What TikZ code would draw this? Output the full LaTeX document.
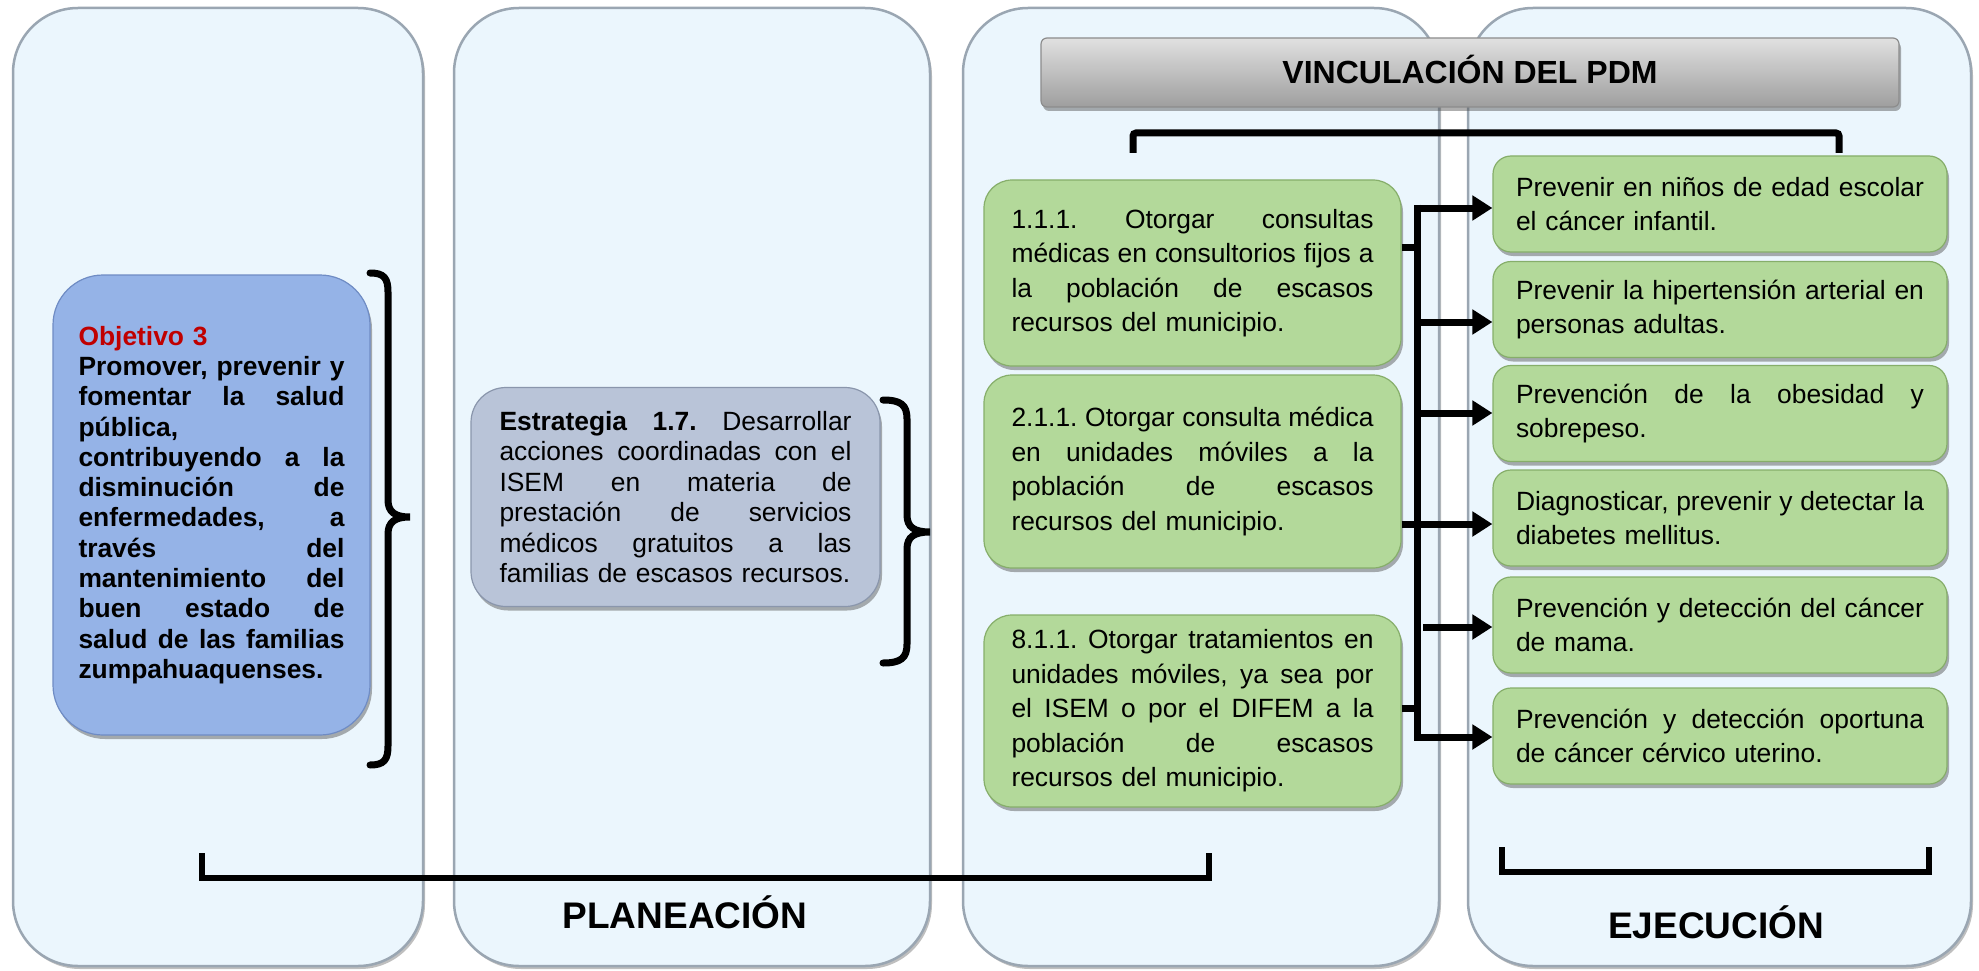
\documentclass[tikz,border=0pt]{standalone}
\usepackage{fontspec}
\setmainfont{Liberation Sans}
\usetikzlibrary{arrows.meta,shadows}
\definecolor{panelfill}{HTML}{EBF6FD}
\definecolor{panelline}{HTML}{9AA6B2}
\definecolor{objfill}{HTML}{95B3E7}
\definecolor{objline}{HTML}{6F8CC4}
\definecolor{estfill}{HTML}{B9C4D8}
\definecolor{estline}{HTML}{8A96AC}
\definecolor{grfill}{HTML}{B3D99A}
\definecolor{grline}{HTML}{86AE6A}
\definecolor{objred}{HTML}{C00000}
\def\jwd{100pt}
\newcommand{\jl}[1]{\leavevmode\hbox to \jwd{\spaceskip=0.278em plus 1fil\relax #1}}
\frenchspacing
\tikzset{
  panel/.style={fill=panelfill, draw=panelline, line width=2.5pt, rounded corners=65pt,
    drop shadow={shadow xshift=2pt, shadow yshift=-3pt, opacity=.5, fill=gray}},
  boxbase/.style={align=left, inner ysep=0pt, line width=1.2pt,
    drop shadow={shadow xshift=2pt, shadow yshift=-4pt, opacity=.45, fill=black!70}},
  objbox/.style={boxbase, fill=objfill, draw=objline, rounded corners=50pt,
    text width=266pt, inner xsep=25.5pt, minimum height=460pt,
    execute at begin node={\def\jwd{266pt}},
    font=\fontsize{26.4}{30.3}\selectfont\bfseries},
  estbox/.style={boxbase, fill=estfill, draw=estline, rounded corners=35pt,
    text width=352pt, inner xsep=28.5pt, minimum height=219pt,
    execute at begin node={\def\jwd{352pt}},
    font=\fontsize{26.4}{30.5}\selectfont},
  gbox/.style={boxbase, fill=grfill, draw=grline, rounded corners=28pt,
    text width=362pt, inner xsep=27.5pt,
    execute at begin node={\def\jwd{362pt}},
    font=\fontsize{26.4}{34.5}\selectfont},
  rbox/.style={boxbase, fill=grfill, draw=grline, rounded corners=18pt,
    text width=408pt, inner xsep=23pt, minimum height=96pt,
    execute at begin node={\def\jwd{408pt}},
    font=\fontsize{26.4}{33.5}\selectfont},
  vinc/.style={boxbase, align=center, top color=black!12, bottom color=black!38, draw=black!45,
    rounded corners=6pt, minimum width=858pt, minimum height=69pt,
    text height=23pt, text depth=0pt, font=\fontsize{32}{36}\selectfont\bfseries},
  conn/.style={line width=7pt, black},
  arr/.style={conn, -{Triangle[length=20pt,width=24pt]}},
  brace/.style={line width=7pt, black, line cap=round},
  bracket/.style={line width=6pt, black},
  phase/.style={anchor=base, font=\fontsize{37}{40}\selectfont\bfseries},
}
\begin{document}
\begin{tikzpicture}[x=1pt,y=-1pt]
\useasboundingbox (0,0) rectangle (1979,971);
\fill[white] (0,0) rectangle (1979,971);

% panels
\path[panel] (13,8) rectangle (423,966);
\path[panel] (454,8) rectangle (930,966);
\path[panel] (963,8) rectangle (1439,966);
\path[panel] (1468,8) rectangle (1971,966);

% objetivo
\node[objbox] (obj) at (211.5,505) {%
{\color{objred}Objetivo 3}\\
\jl{Promover, prevenir y}\\
\jl{fomentar la salud}\\
pública,\\
\jl{contribuyendo a la}\\
\jl{disminución de}\\
\jl{enfermedades, a}\\
\jl{través del}\\
\jl{mantenimiento del}\\
\jl{buen estado de}\\
\jl{salud de las familias}\\
zumpahuaquenses.};

% estrategia
\node[estbox] (est) at (675.5,497) {%
\jl{\textbf{Estrategia 1.7.} Desarrollar}\\
\jl{acciones coordinadas con el}\\
\jl{ISEM en materia de}\\
\jl{prestación de servicios}\\
\jl{médicos gratuitos a las}\\
familias de escasos recursos.};

% braces
\draw[brace] (370,273) .. controls (384,273) and (388,278) .. (388,292) -- (388,500)
  .. controls (388,512) and (395,517) .. (410,517)
  .. controls (395,517) and (388,522) .. (388,534) -- (388,746)
  .. controls (388,760) and (384,765) .. (370,765);
\draw[brace] (883,400) .. controls (901,400) and (907,405) .. (907,419) -- (907,515)
  .. controls (907,527) and (914,532) .. (930,532)
  .. controls (914,532) and (907,537) .. (907,549) -- (907,644)
  .. controls (907,658) and (901,663) .. (883,663);

% vinculacion
\node[vinc] (vin) at (1470,72.5) {VINCULACIÓN DEL PDM};
\draw[conn, rounded corners=3pt] (1133,153) -- (1133,133) -- (1839,133) -- (1839,153);

% green left boxes
\node[gbox, minimum height=186pt] (g1) at (1192.5,273) {%
\jl{1.1.1. Otorgar consultas}\\
\jl{médicas en consultorios fijos a}\\
\jl{la población de escasos}\\
recursos del municipio.};
\node[gbox, minimum height=193pt] (g2) at (1192.5,471.5) {%
\jl{2.1.1. Otorgar consulta médica}\\
\jl{en unidades móviles a la}\\
\jl{población de escasos}\\
recursos del municipio.};
\node[gbox, minimum height=192pt] (g3) at (1192.5,711) {%
\jl{8.1.1. Otorgar tratamientos en}\\
\jl{unidades móviles, ya sea por}\\
\jl{el ISEM o por el DIFEM a la}\\
\jl{población de escasos}\\
recursos del municipio.};

% right boxes
\node[rbox] (r1) at (1720,204) {\jl{Prevenir en niños de edad escolar}\\el cáncer infantil.};
\node[rbox] (r2) at (1720,309.5) {\jl{Prevenir la hipertensión arterial en}\\personas adultas.};
\node[rbox] (r3) at (1720,413.5) {\jl{Prevención de la obesidad y}\\sobrepeso.};
\node[rbox] (r4) at (1720,518) {\jl{Diagnosticar, prevenir y detectar la}\\diabetes mellitus.};
\node[rbox] (r5) at (1720,625) {\jl{Prevención y detección del cáncer}\\de mama.};
\node[rbox] (r6) at (1720,736) {\jl{Prevención y detección oportuna}\\de cáncer cérvico uterino.};

% connectors
\coordinate (ttop) at (1417,204.5);
\coordinate (tbot) at (1417,740.5);
\draw[conn] (ttop) -- (tbot);
\coordinate (s1) at (1417,247);
\coordinate (s2) at (1417,524);
\coordinate (s3) at (1417,708);
\draw[conn] (s1 -| g1.east) -- (s1);
\draw[conn] (s2 -| g2.east) -- (s2);
\draw[conn] (s3 -| g3.east) -- (s3);
\coordinate (a1) at (1414,208);
\coordinate (a2) at (1414,322);
\coordinate (a3) at (1414,413);
\coordinate (a4) at (1414,524);
\coordinate (a5) at (1423,627);
\coordinate (a6) at (1414,737);
\draw[arr] (a1) -- (a1 -| r1.west);
\draw[arr] (a2) -- (a2 -| r2.west);
\draw[arr] (a3) -- (a3 -| r3.west);
\draw[arr] (a4) -- (a4 -| r4.west);
\draw[arr] (a5) -- (a5 -| r5.west);
\draw[arr] (a6) -- (a6 -| r6.west);

% bottom brackets
\draw[bracket] (202,853) -- (202,878) -- (1209,878) -- (1209,853);
\draw[bracket] (1502,847) -- (1502,872) -- (1929,872) -- (1929,847);
\node[phase] (plan) at (685,928) {PLANEACIÓN};
\node[phase] (ejec) at (1716,938) {EJECUCIÓN};
\end{tikzpicture}
\end{document}
